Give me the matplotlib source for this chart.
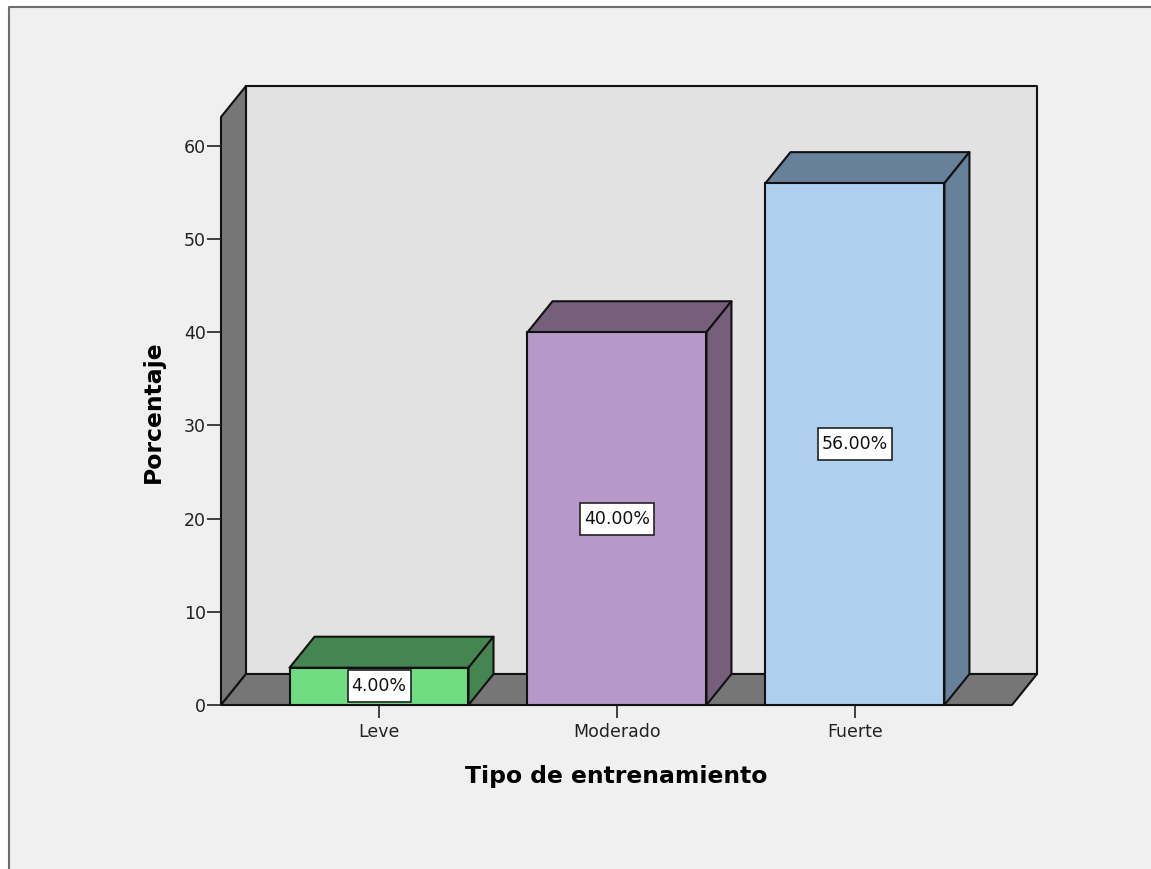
import matplotlib
matplotlib.use('Agg')
from matplotlib import pyplot as plt
from matplotlib.patches import Polygon
from matplotlib.path import Path
from matplotlib.lines import Line2D

plt.rcParams['font.family'] = ['DejaVu Sans']

categories = ['Leve', 'Moderado', 'Fuerte']
values = [4, 40, 56]
labels = ['4.00%', '40.00%', '56.00%']
yticks = [0, 10, 20, 30, 40, 50, 60]

front = ['#70DC82', '#B898C9', '#AECFEE']
dark = ['#458551', '#755F7B', '#68819A']
bg = '#F0F0F0'
wall = '#767676'
back = '#E2E2E2'

W, H = 1151, 869
fig = plt.figure(figsize=(W / 100, H / 100), dpi=100, facecolor='white')

# outer window frame, white strip left of and above it
fig.add_artist(plt.Rectangle((8.5 / W, 0), 1 - 8.5 / W, 1 - 6.5 / H, transform=fig.transFigure,
                             fc=bg, ec='none', zorder=-2))
fig.add_artist(Line2D([8.5 / W, 8.5 / W, 1], [0, 1 - 6.5 / H, 1 - 6.5 / H], transform=fig.transFigure,
                      color='#6E6E6E', lw=1.5, zorder=-1))

ax = fig.add_axes([221 / W, 1 - 705 / H, (1012 - 221) / W, (705 - 117) / H])
ax.patch.set_visible(False)
xmin, xmax = -0.664, 2.66
ymax = 63.1
ax.set_xlim(xmin, xmax)
ax.set_ylim(0, ymax)

dx = 25 / 238
dy = 31 / 9.32
bw = 179 / 238
lw = 1.5

def poly(pts, color, z=1):
    ax.add_patch(Polygon(pts, closed=True, fc=color, ec='#111111', lw=lw, zorder=z, clip_on=False,
                         joinstyle='round'))

# label box is taller than a square pad gives
def label_box(x0, y0, w, h, size):
    px, py = 4, 7
    return Path([(x0 - px, y0 - py), (x0 + w + px, y0 - py), (x0 + w + px, y0 + h + py),
                 (x0 - px, y0 + h + py), (x0 - px, y0 - py)], closed=True)

# back wall, left wall, floor
poly([(xmin + dx, dy), (xmax + dx, dy), (xmax + dx, ymax + dy), (xmin + dx, ymax + dy)], back)
poly([(xmin, 0), (xmin + dx, dy), (xmin + dx, ymax + dy), (xmin, ymax)], wall)
poly([(xmin, 0), (xmax, 0), (xmax + dx, dy), (xmin + dx, dy)], wall)

for i, v in enumerate(values):
    l, r = i - bw / 2, i + bw / 2
    ax.bar(i, v, width=bw, color=front[i], edgecolor='#111111', lw=lw, zorder=3, clip_on=False)
    poly([(l, v), (r, v), (r + dx, v + dy), (l + dx, v + dy)], dark[i], 2)
    poly([(r, 0), (r + dx, dy), (r + dx, v + dy), (r, v)], dark[i], 2)
    ax.text(i, v / 2, labels[i], ha='center', va='center', fontsize=12.5, color='#111111', zorder=4,
            bbox=dict(boxstyle=label_box, fc='white', ec='#222222', lw=1.2))

for s in ax.spines.values():
    s.set_visible(False)

ax.set_xticks(range(len(categories)))
ax.set_xticklabels(categories)
ax.set_yticks(yticks)
ax.tick_params(axis='x', length=9, width=1.2, color='#222222', labelsize=12.5, pad=4, labelcolor='#222222')
ax.tick_params(axis='y', length=10, width=1.2, color='#222222', labelsize=12.5, pad=1, labelcolor='#222222')

fig.text(153 / W, 1 - 412 / H, 'Porcentaje', rotation=90, ha='center', va='center',
         fontsize=16.9, fontweight='bold', color='black')
fig.text(616.5 / W, 1 - 776 / H, 'Tipo de entrenamiento', ha='center', va='center',
         fontsize=16.9, fontweight='bold', color='black')

fig.savefig('out.png', dpi=100, facecolor='white')
